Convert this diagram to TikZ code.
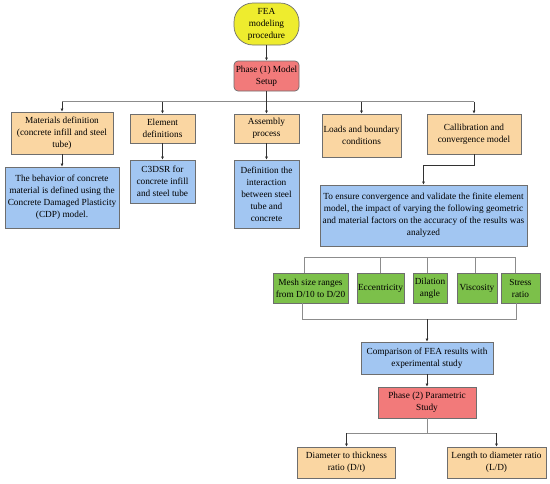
\documentclass[tikz,border=0pt]{standalone}
\usepackage{fontspec}
\setmainfont{Liberation Serif}
\usetikzlibrary{arrows.meta,calc}
\definecolor{cyellow}{RGB}{238,236,46}
\definecolor{cred}{RGB}{242,122,122}
\definecolor{corange}{RGB}{250,214,162}
\definecolor{cblue}{RGB}{162,198,242}
\definecolor{cgreen}{RGB}{124,192,74}
\definecolor{cbord}{RGB}{110,110,110}
\definecolor{cbus}{RGB}{140,140,140}
\definecolor{carr}{RGB}{50,50,50}
\begin{document}
\begin{tikzpicture}[x=1pt,y=-1pt,
  box/.style={draw=cbord, line width=0.7pt, align=center, inner sep=1pt,
    font=\fontsize{9.3}{12}\selectfont},
  obox/.style={box, fill=corange},
  bbox/.style={box, fill=cblue},
  gbox/.style={box, fill=cgreen},
  rbox/.style={box, fill=cred, rounded corners=4pt},
  arr/.style={draw=carr, line width=0.6pt, -{Latex[length=3pt,width=3pt]}},
  ln/.style={draw=cbus, line width=0.7pt},
  sz/.style n args={2}{minimum width=#1pt, minimum height=#2pt}]
\useasboundingbox (0,0) rectangle (550,483);
\fill[white] (0,0) rectangle (550,483);

\node[box, fill=cyellow, rounded corners=19pt, sz={65}{42}] (fea) at (266.5,24) {FEA\\modeling\\procedure};
\node[rbox, sz={65}{30}] (ph1) at (266.5,76) {Phase (1) Model\\Setup};

\node[obox, sz={102}{42}] (mat) at (62,133) {Materials definition\\(concrete infill and steel\\tube)};
\node[obox, sz={65}{29}] (elem) at (162.5,128.5) {Element\\definitions};
\node[obox, sz={65}{29}] (asm) at (266.5,128.5) {Assembly\\process};
\node[obox, sz={79}{43}] (load) at (361.5,135.5) {Loads and boundary\\conditions};
\node[obox, sz={94}{40}] (cal) at (474,134) {Callibration and\\convergence model};

\node[bbox, sz={114}{61}] (beh) at (62,197.5) {The behavior of concrete\\material is defined using the\\Concrete Damaged Plasticity\\(CDP) model.};
\node[bbox, sz={65}{43}] (c3d) at (162.5,181.5) {C3DSR for\\concrete infill\\and steel tube};
\node[bbox, sz={65}{68}] (defi) at (266.5,194) {Definition the\\interaction\\between steel\\tube and\\concrete};
\node[bbox, sz={207}{61}] (ens) at (423.5,215.5) {To ensure convergence and validate the finite element\\model, the impact of varying the following geometric\\and material factors on the accuracy of the results was\\analyzed};

\node[gbox, sz={75}{30}] (mesh) at (310.5,288) {Mesh size ranges\\from D/10 to D/20};
\node[gbox, sz={47}{30}] (ecc) at (380.5,288) {Eccentricity};
\node[gbox, sz={34}{30}] (dil) at (430,288) {Dilation\\angle};
\node[gbox, sz={40}{30}] (vis) at (477,288) {Viscosity};
\node[gbox, sz={39}{30}] (str) at (520.5,288) {Stress\\ratio};

\node[bbox, sz={132}{32}] (comp) at (427,358) {Comparison of FEA results with\\experimental study};
\node[rbox, rounded corners=0pt, sz={98}{31}] (ph2) at (427,402.5) {Phase (2) Parametric\\Study};
\node[obox, sz={98}{31}] (dia) at (346.5,462.5) {Diameter to thickness\\ratio (D/t)};
\node[obox, sz={99}{31}] (len) at (496.5,462.5) {Length to diameter ratio\\(L/D)};

% top connectors
\draw[arr] (fea) -- (ph1);
\coordinate (bus1) at (266.5,101.5);
\draw[ln] (mat.north |- bus1) -- (cal.north |- bus1);
\draw[arr] (ph1) -- (asm);
\foreach \n in {mat,elem,load,cal} \draw[arr] (\n.north |- bus1) -- (\n.north);
\draw[arr] (mat) -- (beh);
\draw[arr] (elem) -- (c3d);
\draw[arr] (asm) -- (defi);
\draw[arr] (cal.south) -- ++(0,11) -| (ens.north);

% green bus
\coordinate (g1) at (304,257);
\coordinate (g2) at (380,257);
\coordinate (g3) at (427,257);
\coordinate (g4) at (475,257);
\coordinate (g5) at (515,257);
\draw[ln] (g1) -- (g5);
\draw[ln] (g1) -- (g1 |- mesh.north);
\draw[ln] (g2) -- (g2 |- ecc.north);
\draw[ln] (g3) -- (g3 |- dil.north);
\draw[ln] (g4) -- (g4 |- vis.north);
\draw[ln] (g5) -- (g5 |- str.north);

\coordinate (h1) at (302,319);
\coordinate (h2) at (516,319);
\coordinate (hc) at (427,319);
\draw[ln] (h1 |- mesh.south) -- (h1) -- (h2) -- (h2 |- str.south);
\draw[arr] (hc) -- (comp.north);

\draw[arr] (comp) -- (ph2);
\coordinate (b3) at (427,433);
\draw[ln] (ph2.south) -- (b3);
\draw[ln] (dia.north |- b3) -- (len.north |- b3);
\draw[arr] (dia.north |- b3) -- (dia.north);
\draw[arr] (len.north |- b3) -- (len.north);
\end{tikzpicture}
\end{document}
